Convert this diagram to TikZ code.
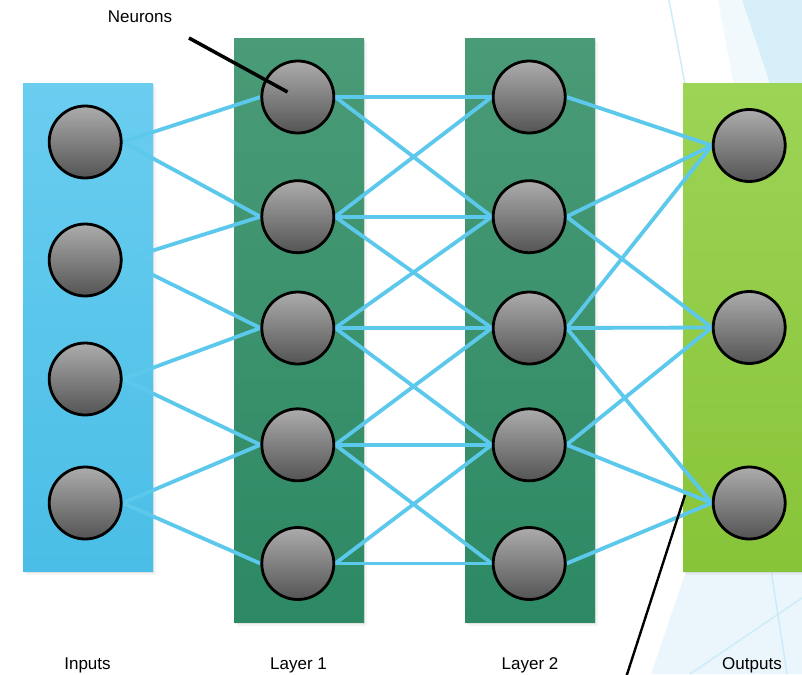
\documentclass[tikz,border=0pt]{standalone}
\usepackage{fontspec}
\setmainfont{Liberation Sans}
\usetikzlibrary{shadows}

% palette
\definecolor{inTop}{RGB}{106,205,240}
\definecolor{inBot}{RGB}{74,190,230}
\definecolor{hidTop}{RGB}{74,155,119}
\definecolor{hidBot}{RGB}{44,137,99}
\definecolor{outTop}{RGB}{156,212,86}
\definecolor{outBot}{RGB}{136,196,56}
\definecolor{wireBlue}{RGB}{91,200,236}
\definecolor{cellTop}{RGB}{172,172,172}
\definecolor{cellBot}{RGB}{84,84,84}
\definecolor{facetPale}{RGB}{242,249,253}
\definecolor{facetSoft}{RGB}{235,246,252}
\definecolor{facetBlue}{RGB}{215,239,249}
\definecolor{facetLine}{RGB}{205,236,249}

\pgfdeclarelayer{boxes}
\pgfdeclarelayer{links}
\pgfsetlayers{boxes,links,main}

\tikzset{
  layerbox/.style={rectangle, minimum width=130pt, inner sep=0pt, draw=none,
    drop shadow={shadow xshift=1pt, shadow yshift=-1.5pt, opacity=0.16},
    drop shadow={shadow xshift=2.5pt, shadow yshift=-3.5pt, opacity=0.09}},
  neuron/.style={circle, minimum size=72pt, inner sep=0pt, draw=black,
    line width=2.8pt, top color=cellTop, bottom color=cellBot},
  link/.style={draw=wireBlue, line width=3.8pt},
  lbl/.style={font=\fontsize{17}{20}\selectfont, inner sep=0pt, anchor=base},
  pointer/.style={draw=black},
  facetedge/.style={draw=facetLine, line width=1.5pt},
}

\begin{document}
\begin{tikzpicture}[x=1pt, y=-1pt]
\useasboundingbox (0,0) rectangle (802,674);
\clip (0,0) rectangle (802,674);

\begin{pgfonlayer}{boxes}
  % faceted background at the right edge
  \fill[facetPale] (718,0) -- (802,0) -- (802,120) -- (740,120) -- cycle;
  \fill[facetBlue] (742,0) -- (802,0) -- (802,120) -- (782,120) -- cycle;
  \draw[facetedge] (669,0) -- (690,110);
  \fill[facetSoft] (695,545) -- (802,545) -- (802,674) -- (651,674) -- cycle;
  \draw[facetedge] (768,550) -- (787,674);
  \draw[facetedge] (690,674) -- (802,598);

  % layer panels
  \node[layerbox, minimum height=487.5pt, top color=inTop, bottom color=inBot]
    (inbox) at (88,327.75) {};
  \node[layerbox, minimum height=583.5pt, top color=hidTop, bottom color=hidBot]
    (l1box) at (299,330.75) {};
  \node[layerbox, minimum height=583.5pt, top color=hidTop, bottom color=hidBot]
    (l2box) at (530,330.75) {};
  \node[layerbox, minimum height=487.5pt, top color=outTop, bottom color=outBot]
    (outbox) at (748,327.75) {};
\end{pgfonlayer}

% neurons
\foreach \y [count=\i] in {142,260,379,503}
  \node[neuron] (I\i) at (85.2,\y) {};
\foreach \y [count=\i] in {97,216.7,328,444.8,563.5} {
  \node[neuron] (A\i) at (297.8,\y) {};
  \node[neuron] (B\i) at (529.2,\y) {};
}
\foreach \y [count=\i] in {145.5,327.5,503}
  \node[neuron] (O\i) at (749.2,\y) {};

% connections
\begin{pgfonlayer}{links}
  \foreach \i in {1,...,4} {
    \pgfmathtruncatemacro{\n}{\i+1}
    \draw[link] (I\i.east) -- (A\i.west);
    \draw[link] (I\i.east) -- (A\n.west);
  }
  \foreach \i in {1,...,5}
    \foreach \j in {1,...,5} {
      \ifnum\numexpr(\i-\j)*(\i-\j)\relax<2
        \draw[link] (A\i.east) -- (B\j.west);
      \fi
    }
  \foreach \k in {1,2,3}
    \foreach \d in {0,1,2} {
      \pgfmathtruncatemacro{\j}{\k+\d}
      \draw[link] (B\j.east) -- (O\k.west);
    }
\end{pgfonlayer}

% annotation pointers
\coordinate (nrnfoot) at (189,38);
\coordinate (nrntip) at (287.5,92);
\draw[pointer, line width=3.5pt] (nrnfoot) -- (nrntip);
\coordinate (lowtip) at (685,495);
\coordinate (lowfoot) at (626.5,676);
\draw[pointer, line width=2.4pt] (lowfoot) -- (lowtip);

% labels
\node[lbl] (nrnlbl) at (140,22.7) {Neurons};
\node[lbl] (inlbl) at (87.5,669) {Inputs};
\node[lbl] (l1lbl) at (298.5,669) {Layer 1};
\node[lbl] (l2lbl) at (530,669) {Layer 2};
\node[lbl] (outlbl) at (752,669) {Outputs};
\end{tikzpicture}
\end{document}
